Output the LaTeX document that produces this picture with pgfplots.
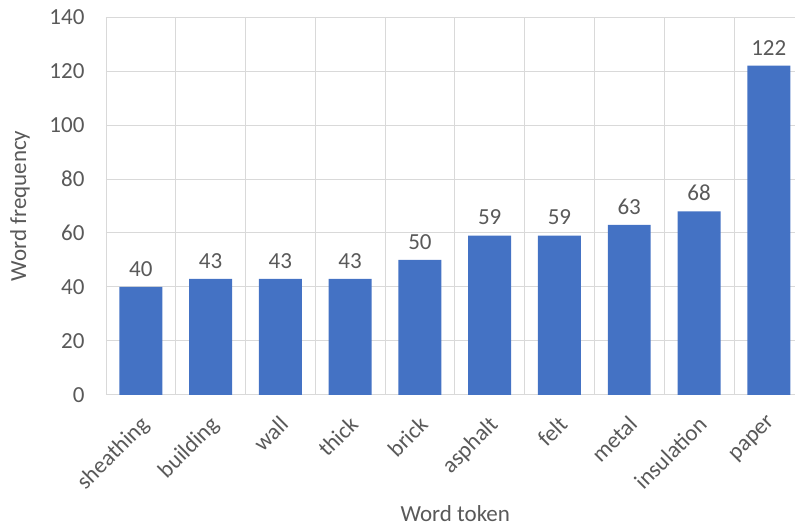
\documentclass[border=0pt]{standalone}
\usepackage{pgfplots}
\pgfplotsset{compat=1.18}
\usepackage{fontspec}
\setmainfont{Carlito}
\definecolor{barblue}{HTML}{4472C4}
\definecolor{gridgray}{HTML}{D9D9D9}
\definecolor{txtgray}{HTML}{595959}
\begin{document}
\begin{tikzpicture}[x=1pt,y=1pt]
\begin{axis}[
  at={(0,0)}, anchor=south west,
  scale only axis,
  width=689pt, height=378pt,
  xmin=-0.5, xmax=9.37,
  ymin=0, ymax=140,
  ytick={0,20,...,140},
  xtick={0,...,9},
  xticklabels={sheathing,building,wall,thick,brick,asphalt,felt,metal,insulation,paper},
  minor xtick={-0.5,0.5,...,9.5},
  xminorgrids, ymajorgrids,
  grid style={gridgray, line width=0.8pt},
  minor grid style={gridgray, line width=0.8pt},
  major tick length=0pt, minor tick length=0pt,
  axis line style={draw=none},
  axis x line*=bottom, axis y line*=left,
  tick label style={font=\fontsize{23}{27}\selectfont, text=txtgray},
  /pgf/number format/assume math mode=true,
  xticklabel style={rotate=45, anchor=north east, inner sep=2pt, yshift=-10.5pt, xshift=-13.3pt},
  yticklabel style={xshift=-18pt},
  ylabel={Word frequency},
  xlabel={Word token},
  label style={font=\fontsize{23}{27}\selectfont, text=txtgray},
  ylabel style={at={(axis description cs:0,0.5)}, anchor=center, yshift=86pt},
  xlabel style={at={(axis description cs:0.5,0)}, anchor=center, yshift=-119pt, xshift=5pt},
  ybar, bar width=43pt,
  nodes near coords,
  every node near coord/.append style={font=\fontsize{23}{27}\selectfont, text=txtgray, yshift=7pt},
  clip=false,
]
\draw[gridgray, line width=0.8pt] (axis cs:-0.5,0) -- (axis cs:9.37,0);
\addplot[fill=barblue, draw=none] coordinates {
 (0,40) (1,43) (2,43) (3,43) (4,50) (5,59) (6,59) (7,63) (8,68) (9,122)
};
\end{axis}
\path[use as bounding box] (-106,-134) rectangle (689,395);
\end{tikzpicture}
\end{document}
